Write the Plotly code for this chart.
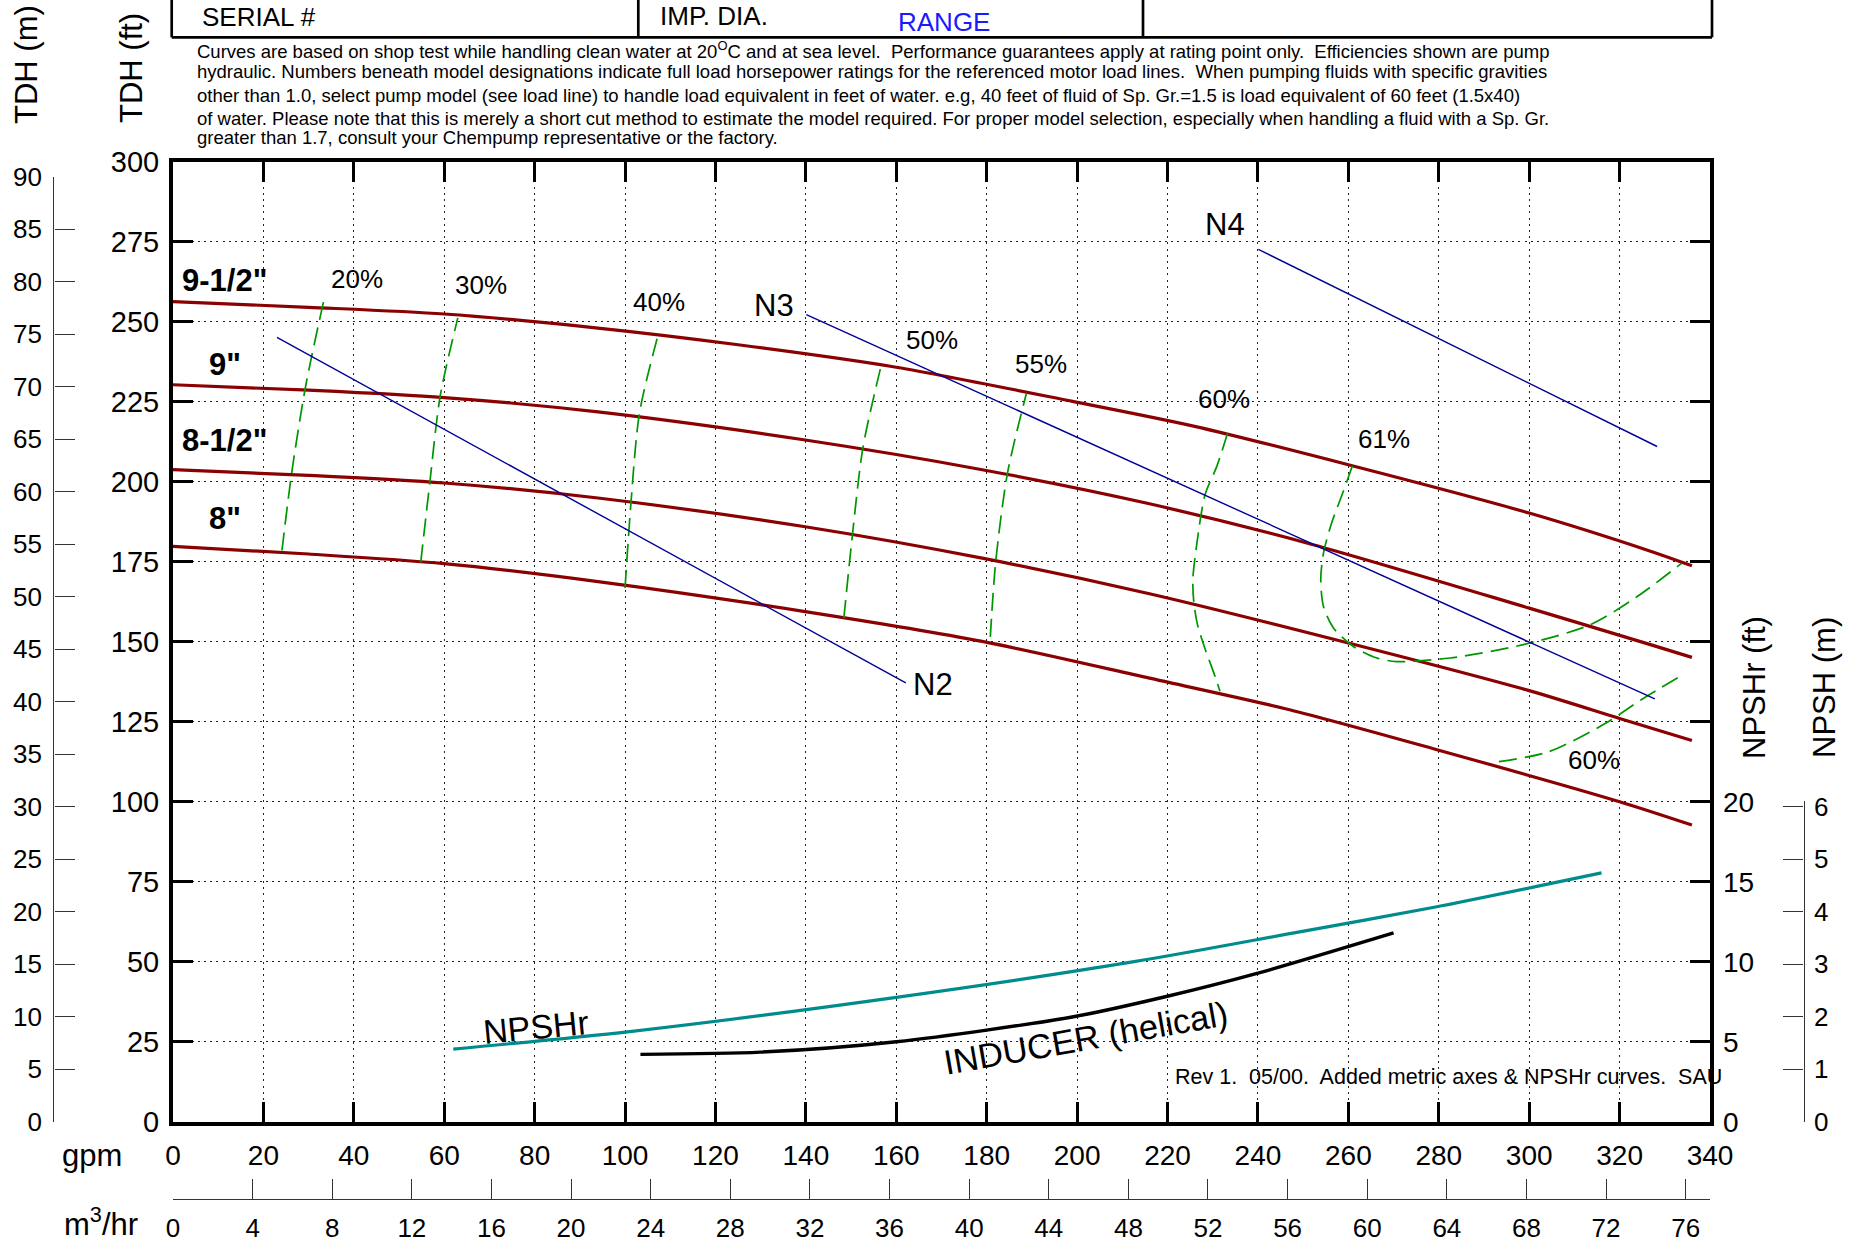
import plotly.graph_objects as go

# ---------------- data ----------------
# pump head curves (gpm, ft)
gpm_95 = [0, 30, 60, 94, 125, 159, 199, 226, 260, 300, 327, 336]
ft_95 = [256.3, 254.5, 252.4, 248.0, 242.8, 236.0, 225.1, 217.3, 205.3, 190.2, 178.2, 173.7]
gpm_90 = [0, 30, 60, 94, 139.5, 179, 216, 252, 300, 327, 336]
ft_90 = [230.3, 228.6, 226.3, 221.8, 213.1, 203.75, 193.1, 180.4, 160.5, 149.0, 145.1]
gpm_85 = [0, 30, 60, 94, 139.5, 179, 216, 260, 300, 320, 336]
ft_85 = [203.75, 202.0, 199.6, 194.9, 186.0, 176.1, 165.0, 149.6, 134.7, 126.0, 119.1]
gpm_80 = [0, 30, 60, 94, 139.5, 179, 216, 247, 280, 320, 336]
ft_80 = [179.8, 177.4, 174.4, 168.8, 159.5, 150.1, 138.6, 128.75, 116.1, 100.0, 92.7]
dia_labels = ['9-1/2"', '9"', '8-1/2"', '8"']
dia_label_ft = [263.0, 236.6, 212.8, 188.6]
dia_label_gpm = [11.4, 11.4, 11.4, 11.4]

# efficiency curves (gpm, ft)
eff20_q = [24.1, 26.3, 29.4, 33.4]
eff20_h = [178.5, 203.2, 230.3, 256.9]
eff30_q = [54.8, 56.8, 59.1, 63.0]
eff30_h = [174.8, 199.6, 226.7, 251.2]
eff40_q = [100.0, 101.3, 103.2, 107.5]
eff40_h = [166.8, 193.3, 221.5, 246.9]
eff50_q = [148.4, 150.3, 152.6, 156.6]
eff50_h = [157.4, 183.4, 210.5, 236.0]
eff55_q = [180.8, 182.0, 184.6, 188.8]
eff55_h = [151.5, 175.1, 202.7, 227.7]
eff60a_q = [233.3, 230.9, 228.3, 226.5, 225.6, 225.8, 226.6, 228.2, 230.5, 231.6]
eff60a_h = [215.2, 204.8, 195.9, 180.8, 169.4, 162.6, 155.5, 148.2, 139.2, 134.5]
eff61_q = [260.9, 258.9, 256.3, 254.5, 253.9, 254.5, 256.7, 261.1, 266.3, 270.7, 282.5, 298.7, 313.5, 323.9, 333.7]
eff61_h = [205.0, 197.0, 187.1, 177.7, 169.4, 161.0, 154.3, 148.5, 144.9, 143.8, 144.9, 149.1, 155.3, 164.1, 174.5]
eff60b_q = [293.3, 304.3, 316.9, 324.7, 333.3]
eff60b_h = [112.5, 115.6, 124.5, 131.8, 139.1]
eff_labels = ['20%', '30%', '40%', '50%', '55%', '60%', '61%', '60%']
eff_label_q = [40.7, 68.1, 107.6, 168.0, 192.0, 232.4, 267.8, 314.4]
eff_label_h = [263.2, 261.6, 256.1, 244.2, 236.9, 225.9, 213.2, 113.0]

# motor load lines (gpm, ft)
n2_q = [23.0, 162.1]
n2_h = [245.1, 137.1]
n3_q = [140.1, 327.8]
n3_h = [252.2, 132.1]
n4_q = [240.1, 328.3]
n4_h = [272.6, 211.0]
n_labels = ['N2', 'N3', 'N4']
n_label_q = [168.2, 133.0, 232.7]
n_label_h = [136.6, 255.1, 280.3]

# NPSHr curves (gpm, NPSHr ft)
npshr_q = [62, 101, 160, 212.6, 248, 279, 316]
npshr_h = [4.54, 5.63, 7.77, 10.0, 11.8, 13.4, 15.55]
ind_q = [103.4, 130, 160, 199.2, 219.5, 239.8, 270]
ind_h = [4.21, 4.35, 5.0, 6.56, 7.81, 9.27, 11.8]

# axis ticks
gpm_ticks = list(range(0, 341, 20))
ft_ticks = list(range(0, 301, 25))
m_ticks = list(range(0, 91, 5))
m3h_ticks = list(range(0, 77, 4))
npshr_ticks = [0, 5, 10, 15, 20]
npshm_ticks = [0, 1, 2, 3, 4, 5, 6]

FT_PER_M = 3.28084
GPM_PER_M3H = 4.402868

# ---------------- layout helpers ----------------
W, H = 1856, 1244
X0, X1 = 173, 1710
YT, YB = 161.7, 1121.7
PXFT = (YB - YT) / 300.0
FONT = "Liberation Sans, Arial, sans-serif"
DARKRED = "#8b0000"
GREEN = "rgb(0,150,0)"
NAVY = "rgb(0,0,150)"
TEAL = "rgb(0,140,140)"


def px(x):
    return x / W


def py(y):
    return 1 - y / H


fig = go.Figure()

for q, h in [(gpm_95, ft_95), (gpm_90, ft_90), (gpm_85, ft_85), (gpm_80, ft_80)]:
    fig.add_trace(go.Scatter(x=q, y=h, mode='lines', line=dict(color=DARKRED, width=3.2, shape='spline', smoothing=0.8),
                             hoverinfo='skip'))

for q, h in [(eff20_q, eff20_h), (eff30_q, eff30_h), (eff40_q, eff40_h), (eff50_q, eff50_h),
             (eff55_q, eff55_h), (eff60a_q, eff60a_h), (eff61_q, eff61_h), (eff60b_q, eff60b_h)]:
    fig.add_trace(go.Scatter(x=q, y=h, mode='lines',
                             line=dict(color=GREEN, width=1.7, dash='18px,8px', shape='spline', smoothing=0.8),
                             hoverinfo='skip'))

for q, h in [(n2_q, n2_h), (n3_q, n3_h), (n4_q, n4_h)]:
    fig.add_trace(go.Scatter(x=q, y=h, mode='lines', line=dict(color=NAVY, width=1.4), hoverinfo='skip'))

fig.add_trace(go.Scatter(x=npshr_q, y=npshr_h, yaxis='y3', mode='lines',
                         line=dict(color=TEAL, width=3.2, shape='spline', smoothing=0.8), hoverinfo='skip'))
fig.add_trace(go.Scatter(x=ind_q, y=ind_h, yaxis='y3', mode='lines',
                         line=dict(color='black', width=3.4, shape='spline', smoothing=0.8), hoverinfo='skip'))

# dummy traces so secondary axes render
fig.add_trace(go.Scatter(x=[0], y=[0], xaxis='x3', yaxis='y2', mode='markers', marker=dict(opacity=0), hoverinfo='skip'))
fig.add_trace(go.Scatter(x=[0], y=[0], xaxis='x4', yaxis='y4', mode='markers', marker=dict(opacity=0), hoverinfo='skip'))
fig.add_trace(go.Scatter(x=[0], y=[0], xaxis='x2', yaxis='y', mode='markers', marker=dict(opacity=0), hoverinfo='skip'))

xdom = [px(X0), px(X1)]
ydom = [py(YB), py(YT)]
main_common = dict(ticks='inside', ticklen=20, tickwidth=3, tickcolor='black', showline=True, linewidth=4,
                   linecolor='black', mirror='ticks', showgrid=True, gridcolor='#222', gridwidth=1.3,
                   griddash='2px,4.2px', zeroline=False)
metric_common = dict(ticks='inside', ticklen=20, tickwidth=1.4, tickcolor='#333', showline=True, linewidth=1.4,
                     linecolor='#333', showgrid=False, zeroline=False, tickfont=dict(size=26, family=FONT))

m_top = YB - 90 * FT_PER_M * PXFT
npsh_top = YB - 6.1 * FT_PER_M * 5 * PXFT

fig.update_layout(
    width=W, height=H, margin=dict(l=0, r=0, t=0, b=0, autoexpand=False),
    paper_bgcolor='white', plot_bgcolor='rgba(0,0,0,0)', showlegend=False,
    font=dict(family=FONT, color='black'),
    xaxis=dict(domain=xdom, range=[0, 340], tickvals=gpm_ticks, anchor='y', ticklabelstandoff=6,
               tickfont=dict(size=28, family=FONT), **main_common),
    yaxis=dict(domain=ydom, range=[0, 300], tickvals=ft_ticks, anchor='x', ticklabelstandoff=4,
               tickfont=dict(size=29, family=FONT), **main_common),
    xaxis2=dict(overlaying='x', anchor='free', position=py(1199), side='bottom', range=[0, 340 / GPM_PER_M3H],
                tickvals=m3h_ticks, ticklabelstandoff=6, **metric_common),
    xaxis3=dict(domain=xdom, range=[0, 1], visible=False, anchor='y2'),
    xaxis4=dict(domain=xdom, range=[0, 1], visible=False, anchor='y4'),
    yaxis2=dict(domain=[py(YB), py(m_top)], range=[0, 90], anchor='free', position=px(53.3), side='left',
                tickvals=m_ticks, ticklabelstandoff=6, **metric_common),
    yaxis3=dict(overlaying='y', anchor='x', side='right', range=[0, 60], tickvals=npshr_ticks, ticks='',
                showline=False, showgrid=False, zeroline=False, ticklabelstandoff=12,
                tickfont=dict(size=28, family=FONT)),
    yaxis4=dict(domain=[py(YB), py(npsh_top)], range=[0, 6.1], anchor='free', position=px(1803.6), side='right',
                tickvals=npshm_ticks, ticklabelstandoff=4, **metric_common),
)

ann = []
for t, q, h in zip(dia_labels, dia_label_gpm, dia_label_ft):
    ann.append(dict(x=q, y=h, xref='x', yref='y', text='<b>%s</b>' % t, showarrow=False,
                    xanchor='center', yanchor='middle', font=dict(size=31, family=FONT)))
for t, q, h in zip(eff_labels, eff_label_q, eff_label_h):
    ann.append(dict(x=q, y=h, xref='x', yref='y', text=t, showarrow=False, xanchor='center', yanchor='middle',
                    font=dict(size=26, family=FONT)))
for t, q, h in zip(n_labels, n_label_q, n_label_h):
    ann.append(dict(x=q, y=h, xref='x', yref='y', text=t, showarrow=False, xanchor='center', yanchor='middle',
                    font=dict(size=31, family=FONT)))
ann.append(dict(x=80.4, y=5.94, xref='x', yref='y3', text='NPSHr', showarrow=False, textangle=-5.5,
                xanchor='center', yanchor='middle', font=dict(size=34, family=FONT)))
ann.append(dict(x=202, y=5.25, xref='x', yref='y3', text='INDUCER (helical)', showarrow=False, textangle=-10,
                xanchor='center', yanchor='middle', font=dict(size=34.5, family=FONT)))
ann.append(dict(x=px(1173), y=py(1077), xref='paper', yref='paper', xanchor='left', yanchor='middle',
                text='Rev 1.\u00a0 05/00.\u00a0 Added metric axes &amp; NPSHr curves.\u00a0 SAU', showarrow=False,
                font=dict(size=21.5, family=FONT)))


def centered(x, y, text, size, angle=0, color='black'):
    return dict(x=px(x), y=py(y), xref='paper', yref='paper', xanchor='center', yanchor='middle', text=text,
                textangle=angle, showarrow=False, font=dict(size=size, family=FONT, color=color))


# axis titles
ann.append(centered(27, 65, 'TDH (m)', 31, -90))
ann.append(centered(131, 68, 'TDH (ft)', 31, -90))
ann.append(centered(1754, 688, 'NPSHr (ft)', 31, -90))
ann.append(centered(1824, 688, 'NPSH (m)', 31, -90))
ann.append(centered(92, 1155, 'gpm', 31))
ann.append(centered(101, 1222, 'm<sup>3</sup>/hr', 31))


def lefttext(x, y, text, size, color='black'):
    return dict(x=px(x), y=py(y), xref='paper', yref='paper', xanchor='left', yanchor='middle', text=text,
                showarrow=False, font=dict(size=size, family=FONT, color=color))


# header
ann.append(lefttext(200, 17.5, 'SERIAL #', 26))
ann.append(lefttext(658, 16, 'IMP. DIA.', 26))
ann.append(lefttext(896, 22, 'RANGE', 26, '#1a1aff'))

para = [
    'Curves are based on shop test while handling clean water at 20<sup>O</sup>C and at sea level.\u00a0 Performance guarantees apply at rating point only.\u00a0 Efficiencies shown are pump',
    'hydraulic. Numbers beneath model designations indicate full load horsepower ratings for the referenced motor load lines.\u00a0 When pumping fluids with specific gravities',
    'other than 1.0, select pump model (see load line) to handle load equivalent in feet of water. e.g, 40 feet of fluid of Sp. Gr.=1.5 is load equivalent of 60 feet (1.5x40)',
    'of water. Please note that this is merely a short cut method to estimate the model required. For proper model selection, especially when handling a fluid with a Sp. Gr.',
    'greater than 1.7, consult your Chempump representative or the factory.',
]
para_y = [50.4, 72.0, 95.4, 118.1, 137.2]
for t, yy in zip(para, para_y):
    ann.append(lefttext(195, yy, t, 18.5))
fig.update_layout(annotations=ann)

shapes = []
for xx in [171.7, 638.3, 1143, 1712]:
    shapes.append(dict(type='line', xref='paper', yref='paper', x0=px(xx), x1=px(xx), y0=py(0), y1=py(37.3),
                       line=dict(color='black', width=2.7)))
shapes.append(dict(type='line', xref='paper', yref='paper', x0=px(171.7), x1=px(1712), y0=py(37.3), y1=py(37.3),
                   line=dict(color='black', width=2.7)))
fig.update_layout(shapes=shapes)

fig.write_html("out.html", config={'displayModeBar': False},
               post_script="document.body.style.margin='0px';document.body.style.padding='0px';"
                           "document.body.style.overflow='hidden';")
